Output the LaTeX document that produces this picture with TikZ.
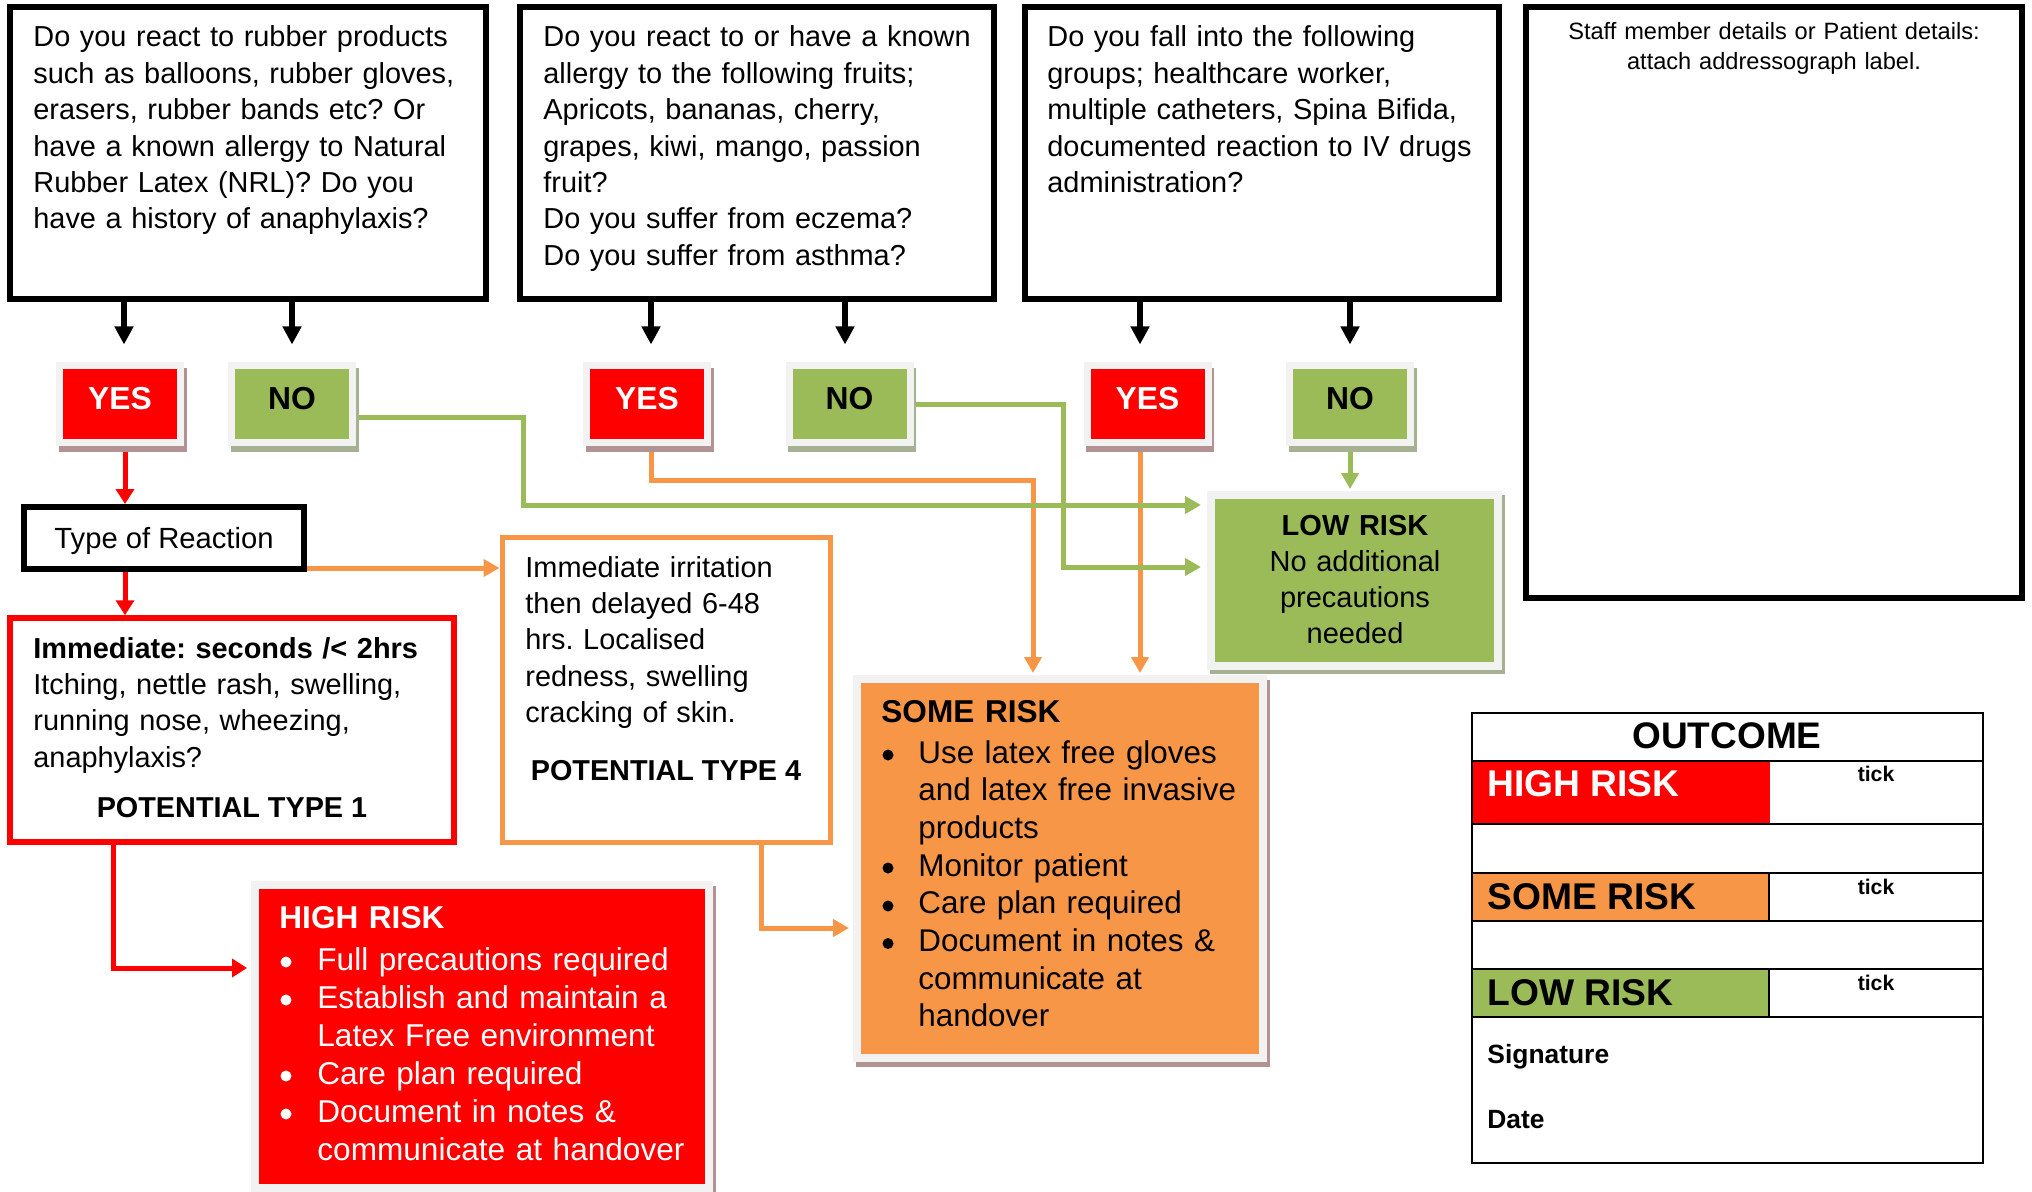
\documentclass[tikz,border=0pt]{standalone}
\usepackage{fontspec}
\setmainfont{Liberation Sans}
\usetikzlibrary{positioning, arrows.meta, shadows, backgrounds}

\definecolor{riskred}{HTML}{FF0000}
\definecolor{riskorange}{HTML}{F79646}
\definecolor{riskgreen}{HTML}{9BBB59}
\definecolor{framegray}{HTML}{F2F2F2}
\definecolor{redshade}{RGB}{178,146,146}
\definecolor{greenshade}{RGB}{166,176,146}
\frenchspacing

\begin{document}
\begin{tikzpicture}[
        x=0.5pt, y=-0.5pt,
        question/.style={rectangle, draw=black, line width=3pt, minimum width=237pt, minimum height=146pt, inner sep=0pt},
        answer/.style={rectangle, draw=framegray, line width=3.5pt, minimum width=60.5pt, minimum height=38.5pt, inner sep=0pt, text depth=6pt, font=\bfseries\fontsize{15.9pt}{19pt}\selectfont},
        yesbox/.style={answer, fill=riskred, text=white, drop shadow={shadow xshift=1.25pt, shadow yshift=-2.75pt, draw=redshade, fill=redshade, line width=3.5pt, opacity=1}},
        nobox/.style={answer, fill=riskgreen, drop shadow={shadow xshift=1.25pt, shadow yshift=-2.75pt, draw=greenshade, fill=greenshade, line width=3.5pt, opacity=1}},
        riskbox/.style={rectangle, draw=framegray, line width=4pt, inner sep=0pt},
        bodytext/.style={inner sep=0pt, align=left, text width=#1, font=\fontsize{14.45pt}{18.2pt}\selectfont},
        bodytext/.default=225pt,
        risktext/.style={inner sep=0pt, align=left, text width=215pt, font=\fontsize{15.8pt}{19pt}\selectfont},
        outcometext/.style={anchor=base west, inner sep=0pt, font=\bfseries\fontsize{18.6pt}{22pt}\selectfont},
        ticktext/.style={anchor=base, inner sep=0pt, font=\bfseries\fontsize{10.6pt}{12pt}\selectfont},
        blackarrow/.style={draw=black, line width=3pt, -{Triangle[length=9pt, width=9pt]}},
        redarrow/.style={draw=riskred, line width=2.5pt, -{Triangle[length=7.5pt, width=9pt]}},
        orangearrow/.style={draw=riskorange, line width=2.5pt, -{Triangle[length=8pt, width=8.5pt]}},
        greenarrow/.style={draw=riskgreen, line width=2.5pt, -{Triangle[length=8pt, width=8.5pt]}}
        ]
        \useasboundingbox (0,0) rectangle (2032,1192);

        % questions
        \node[question, minimum width=238pt] (q1)  at (248,153)    {};
        \node[question]                      (q2)  at (757,153)    {};
        \node[question]                      (q3)  at (1262,153)   {};
        \node[question, minimum width=248pt, minimum height=295.5pt] (staff) at (1774,302.5) {};

        \node[bodytext, anchor=base west] (q1text) at (33,47) {Do you react to rubber products\\such as balloons, rubber gloves,\\erasers, rubber bands etc? Or\\have a known allergy to Natural\\Rubber Latex (NRL)? Do you\\have a history of anaphylaxis?};
        \node[bodytext, anchor=base west] (q2text) at (543,47) {Do you react to or have a known\\allergy to the following fruits;\\Apricots, bananas, cherry,\\grapes, kiwi, mango, passion\\fruit?\\Do you suffer from eczema?\\Do you suffer from asthma?};
        \node[bodytext, anchor=base west] (q3text) at (1047,47) {Do you fall into the following\\groups; healthcare worker,\\multiple catheters, Spina Bifida,\\documented reaction to IV drugs\\administration?};
        \node[anchor=base, inner sep=0pt, text width=240pt, align=center, font=\fontsize{11.8pt}{15pt}\selectfont] (stafftext) at (1774,40) {Staff member details or Patient details:\\attach addressograph label.};

        % answers
        \node[yesbox] (yes1) at (120,404)    {YES};
        \node[nobox]  (no1)  at (292,404)    {NO};
        \node[yesbox] (yes2) at (647,404)    {YES};
        \node[nobox]  (no2)  at (849.5,404)  {NO};
        \node[yesbox] (yes3) at (1147.5,404) {YES};
        \node[nobox]  (no3)  at (1350,404)   {NO};

        % reaction types
        \node[rectangle, draw=black, line width=3pt, minimum width=140pt, minimum height=31pt, inner sep=0pt, text depth=0pt, font=\fontsize{14.6pt}{18pt}\selectfont] (type) at (164,538) {Type of Reaction};
        \node[rectangle, draw=riskred, line width=2.75pt, minimum width=222pt, minimum height=112pt, inner sep=0pt] (immediate) at (232,730) {};
        \node[bodytext=215pt, anchor=base west] (immtext) at (33,658) {\textbf{Immediate: seconds /< 2hrs}\\Itching, nettle rash, swelling,\\running nose, wheezing,\\anaphylaxis?};
        \node[anchor=base, inner sep=0pt, font=\bfseries\fontsize{14.4pt}{18pt}\selectfont] (immtype) at (232,817) {POTENTIAL TYPE 1};

        \node[rectangle, draw=riskorange, line width=2.5pt, minimum width=164pt, minimum height=152.5pt, inner sep=0pt] (delayed) at (666,689.5) {};
        \node[bodytext=150pt, anchor=base west] (delayedtext) at (525,577) {Immediate irritation\\then delayed 6-48\\hrs. Localised\\redness, swelling\\cracking of skin.};
        \node[anchor=base, inner sep=0pt, font=\bfseries\fontsize{14.4pt}{18pt}\selectfont] (delayedtype) at (666,780) {POTENTIAL TYPE 4};

        % risk boxes
        \node[riskbox, fill=riskred, minimum width=227pt, minimum height=151.5pt, drop shadow={shadow xshift=1.5pt, shadow yshift=-2.5pt, draw=redshade, fill=redshade, line width=4pt, opacity=1}] (high) at (482,1036.5) {};
        \node[risktext, anchor=base west, text=white, font=\bfseries\fontsize{15.8pt}{19pt}\selectfont] (highhead) at (279,928) {HIGH RISK};
        \node[risktext, anchor=base west, text=white] (hightext) at (317,970) {Full precautions required\\Establish and maintain a\\Latex Free environment\\Care plan required\\Document in notes \&\\communicate at handover};
        \fill[white] (286,962)  circle (2.75pt);
        \fill[white] (286,1000) circle (2.75pt);
        \fill[white] (286,1076) circle (2.75pt);
        \fill[white] (286,1114) circle (2.75pt);

        \node[riskbox, fill=riskorange, minimum width=203pt, minimum height=189.5pt, drop shadow={shadow xshift=1.5pt, shadow yshift=-2.5pt, draw=redshade, fill=redshade, line width=4pt, opacity=1}] (some) at (1060,868.5) {};
        \node[risktext, anchor=base west, font=\bfseries\fontsize{15.8pt}{19pt}\selectfont] (somehead) at (881,722) {SOME RISK};
        \node[risktext, anchor=base west, font=\fontsize{15.7pt}{18.85pt}\selectfont] (sometext) at (918,763) {Use latex free gloves\\and latex free invasive\\products\\Monitor patient\\Care plan required\\Document in notes \&\\communicate at\\handover};
        \fill[black] (888,755)   circle (2.75pt);
        \fill[black] (888,868)   circle (2.75pt);
        \fill[black] (888,906)   circle (2.75pt);
        \fill[black] (888,943.5) circle (2.75pt);

        \node[riskbox, fill=riskgreen, minimum width=143.5pt, minimum height=85.5pt, drop shadow={shadow xshift=1.5pt, shadow yshift=-2pt, draw=greenshade, fill=greenshade, line width=4pt, opacity=1}] (low) at (1354.5,580.5) {};
        \node[anchor=base, inner sep=0pt, text width=135pt, align=center, font=\fontsize{14.5pt}{18.15pt}\selectfont] (lowtext) at (1355,535) {\textbf{LOW RISK}\\No additional\\precautions\\needed};

        % outcome table
        \fill[riskred]    (1472,761) rectangle (1770,824);
        \fill[riskorange] (1472,873) rectangle (1769,921);
        \fill[riskgreen]  (1472,969) rectangle (1769,1017);
        \draw[line width=1pt] (1472,713) rectangle (1983,1163);
        \draw[line width=1pt] (1472,761) -- (1983,761) (1472,824) -- (1983,824) (1472,873) -- (1983,873)
            (1472,921) -- (1983,921) (1472,969) -- (1983,969) (1472,1017) -- (1983,1017);
        \draw[line width=1pt] (1769,873) -- (1769,921) (1769,969) -- (1769,1017);
        \node[anchor=base, inner sep=0pt, font=\bfseries\fontsize{18.5pt}{22pt}\selectfont] (outtitle) at (1727,748) {OUTCOME};
        \node[outcometext, text=white] (outhigh) at (1487,796)  {HIGH RISK};
        \node[outcometext]             (outsome) at (1487,909)  {SOME RISK};
        \node[outcometext]             (outlow)  at (1487,1005) {LOW RISK};
        \node[ticktext] (tickhigh) at (1876,781) {tick};
        \node[ticktext] (ticksome) at (1876,894) {tick};
        \node[ticktext] (ticklow)  at (1876,990) {tick};
        \node[anchor=base west, inner sep=0pt, font=\bfseries\fontsize{13.2pt}{16pt}\selectfont] (signature) at (1487,1063) {Signature};
        \node[anchor=base west, inner sep=0pt, font=\bfseries\fontsize{13.2pt}{16pt}\selectfont] (date)      at (1487,1128) {Date};

        %Lines
        \begin{scope}[on background layer]
        \draw[blackarrow] ([xshift=2pt]q1.south -| yes1.north)     -- ([xshift=2pt, yshift=8.75pt]yes1.north);
        \draw[blackarrow] (q1.south -| no1.north)                  -- ([yshift=8.75pt]no1.north);
        \draw[blackarrow] ([xshift=2pt]q2.south -| yes2.north)     -- ([xshift=2pt, yshift=8.75pt]yes2.north);
        \draw[blackarrow] ([xshift=-2.25pt]q2.south -| no2.north)  -- ([xshift=-2.25pt, yshift=8.75pt]no2.north);
        \draw[blackarrow] ([xshift=-3.75pt]q3.south -| yes3.north) -- ([xshift=-3.75pt, yshift=8.75pt]yes3.north);
        \draw[blackarrow] (q3.south -| no3.north)                  -- ([yshift=8.75pt]no3.north);

        \draw[redarrow] ([xshift=2.5pt]yes1.south) -- ([xshift=2.5pt]yes1.south |- type.north);
        \draw[redarrow] ([xshift=2.5pt]yes1.south |- type.south) -- ([xshift=2.5pt]yes1.south |- immediate.north);
        \draw[redarrow, shorten >=2pt] ([xshift=-59.5pt]immediate.south) |- ([yshift=34.25pt]high.west);

        \draw[orangearrow] ([yshift=-15pt]type.east) -- ([yshift=-15pt]type.east -| delayed.west);
        \draw[orangearrow, shorten >=2pt] ([xshift=47.5pt]delayed.south) |- ([yshift=-29.75pt]some.west);
        \draw[orangearrow, shorten >=1pt] ([xshift=2pt]yes2.south) -- ++(0,34.5) -| ([xshift=-13.5pt]some.north);
        \draw[orangearrow, shorten >=1pt] ([xshift=-3.75pt]yes3.south) -- ([xshift=-3.75pt]yes3.south |- some.north);

        \draw[greenarrow, shorten >=3pt] ([yshift=-6.5pt]no1.east) -- ++(167.5,0) |- ([yshift=37.75pt]low.west);
        \draw[greenarrow, shorten >=3pt] (no2.east) -- ++(149.5,0) |- ([yshift=6.75pt]low.west);
        \draw[greenarrow, shorten >=1pt] (no3.south) -- (no3.south |- low.north);
        \end{scope}

    \end{tikzpicture}
\end{document}
